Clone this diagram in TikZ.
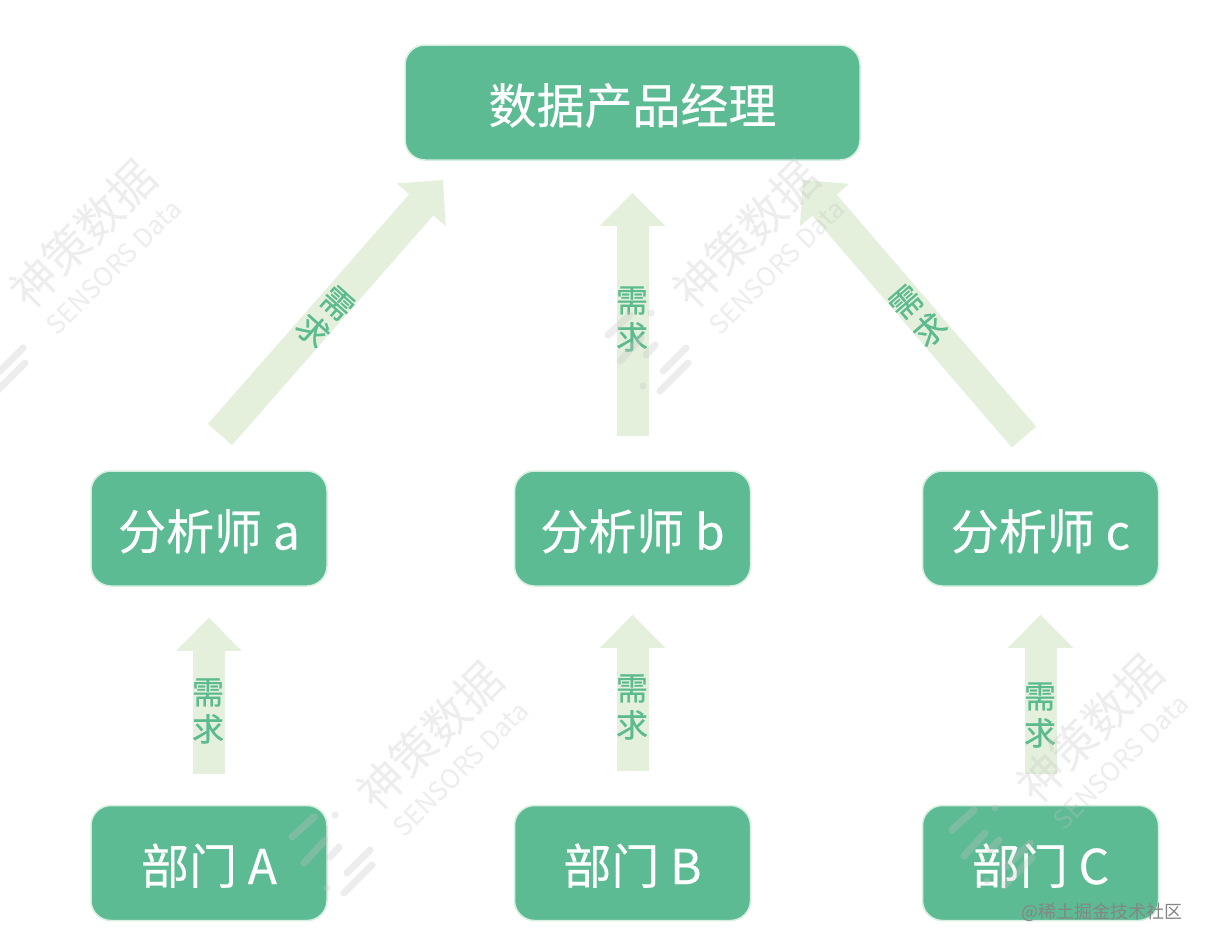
\documentclass[tikz,border=0pt]{standalone}
\usepackage{fontspec}
\setmainfont{Noto Sans CJK SC}
\newfontfamily\labelface[FakeBold=0.6]{Noto Sans CJK SC}
\newfontfamily\cardface[FakeBold=0.3]{Noto Sans CJK SC}
\usetikzlibrary{arrows.meta}
\definecolor{boxfill}{HTML}{5DBB94}
\definecolor{boxedge}{HTML}{D6EFE0}
\definecolor{flowfill}{HTML}{E4EFDC}
\definecolor{flowtext}{HTML}{5BBB8F}
\definecolor{markgrey}{HTML}{C4C4C4}
\newcommand\cardtext[1]{\raisebox{-21pt}[0pt][0pt]{#1}}
\tikzset{
  card/.style={draw=boxedge,line width=1.5pt,fill=boxfill,rounded corners=20pt,text=white,inner sep=0pt,
    minimum height=115pt,font=\cardface\fontsize{48}{48}\selectfont},
  smallcard/.style={card,minimum width=236pt},
  flow/.style={draw=flowfill,line width=32pt,-{Triangle[length=33pt,width=63pt,fill=flowfill]}},
  flowlabel/.style={text=flowtext,inner sep=0pt,align=center,font=\labelface\fontsize{32}{37}\selectfont},
  wmline/.style={markgrey,line width=7pt,line cap=round,opacity=.3},
  wmtitle/.style={text=markgrey,opacity=.3,inner sep=0pt,rotate=45,font=\fontsize{46}{46}\selectfont},
  wmsub/.style={text=markgrey,opacity=.3,inner sep=0pt,rotate=45,font=\fontsize{26}{26}\selectfont},
  sitemark/.style={text=black!48,inner sep=0pt,font=\fontsize{18}{18}\selectfont}
}
\begin{document}
\begin{tikzpicture}[x=1pt,y=-1pt]
\useasboundingbox (0,0) rectangle (1208,948);
\fill[white] (0,0) rectangle (1208,948);
% boxes
\node[card,minimum width=455pt] (top) at (632.5,102.5) {\cardtext{数据产品经理}};
\node[smallcard] (ana) at (209,528.5) {\cardtext{分析师 a}};
\node[smallcard] (anb) at (632.5,528.5) {\cardtext{分析师 b}};
\node[smallcard] (anc) at (1040.5,528.5) {\cardtext{分析师 c}};
\node[smallcard] (depa) at (209,863) {\cardtext{部门 A}};
\node[smallcard] (depb) at (632.5,863) {\cardtext{部门 B}};
\node[smallcard] (depc) at (1040.5,863) {\cardtext{部门 C}};
% connectors
\coordinate (fa) at (220,434.5);
\coordinate (ta) at (443,180);
\coordinate (fc) at (1024,437);
\coordinate (tc) at (803,180);
\draw[flow] (fa) -- (ta);
\draw[flow] (fc) -- (tc);
\draw[flow,shorten <=34pt,shorten >=32pt] (anb.north) -- (top.south);
\draw[flow,shorten <=31pt,shorten >=31pt] (depa.north) -- (ana.south);
\draw[flow,shorten <=34pt,shorten >=28pt] (depb.north) -- (anb.south);
\draw[flow,shorten <=31pt,shorten >=28pt] (depc.north) -- (anc.south);
% labels
\node[flowlabel,rotate=-42] (la) at (325,317) {需\\求};
\node[flowlabel] (lb) at (632,319) {需\\求};
\node[flowlabel,rotate=41] (lc) at (918,316) {需\\求};
\node[flowlabel] (lda) at (208,711) {需\\求};
\node[flowlabel] (ldb) at (632,707) {需\\求};
\node[flowlabel] (ldc) at (1040,715) {需\\求};
% watermarks
\foreach \i/\px/\py in {1/80/238,2/743/238,3/427/740,4/1087/733}{
  \begin{scope}[shift={(\px,\py)}]
    \node[wmtitle] (wmt\i) at (3,-4) {神策数据};
    \node[wmsub] (wms\i) at (34,29) {SENSORS Data};
    \draw[wmline] (-83,153) -- (-55,125);
    \draw[wmline] (-80,133) -- (-57,110);
    \draw[wmline] (-97,117) -- (-88,107);
    \draw[wmline] (-135,97) -- (-113,77);
    \draw[wmline] (-123,123) -- (-102,100);
    \fill[markgrey,opacity=.3] (-92,75) circle (3.5);
    \fill[markgrey,opacity=.3] (-100,148) circle (3.5);
  \end{scope}
}
\node[sitemark] (site) at (1102,912) {@稀土掘金技术社区};
\end{tikzpicture}
\end{document}
